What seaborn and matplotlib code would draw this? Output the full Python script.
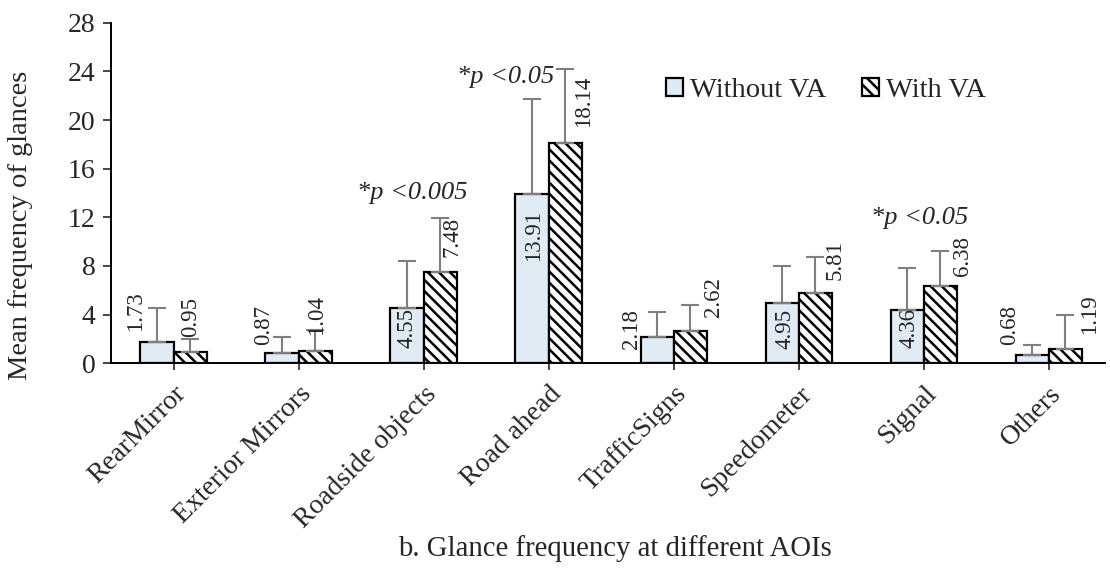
import numpy as np
import pandas as pd
import matplotlib
matplotlib.use("Agg")
import matplotlib.pyplot as plt
import seaborn as sns
from matplotlib.patches import Patch

# ---- data ----
categories = ["RearMirror", "Exterior Mirrors", "Roadside objects", "Road ahead",
              "TrafficSigns", "Speedometer", "Signal", "Others"]
without_va = [1.73, 0.87, 4.55, 13.91, 2.18, 4.95, 4.36, 0.68]
with_va = [0.95, 1.04, 7.48, 18.14, 2.62, 5.81, 6.38, 1.19]
without_sd = [2.85, 1.28, 3.88, 7.79, 2.01, 3.08, 3.45, 0.82]
with_sd = [1.02, 1.66, 4.45, 6.06, 2.15, 2.91, 2.88, 2.78]
series_names = ["Without VA", "With VA"]
y_ticks = [0, 4, 8, 12, 16, 20, 24, 28]
sig_labels = [("Roadside objects", "*p <0.005"), ("Road ahead", "*p <0.05"), ("Signal", "*p <0.05")]

# ---- layout (label placement: x offset from category centre, y in data units) ----
lab_without = [(-0.30, 4.3), (-0.28, 3.15), (-0.13, 2.9), (-0.12, 10.55),
               (-0.34, 2.8), (-0.11, 2.8), (-0.12, 2.9), (-0.31, 3.15)]
lab_with = [(0.14, 3.8), (0.14, 4.0), (0.23, 10.4), (0.28, 21.5),
            (0.32, 5.45), (0.29, 8.5), (0.31, 8.8), (0.33, 4.05)]
sig_pos = [(-0.09, 14.0), (-0.34, 23.55), (-0.03, 11.95)]

sns.set_style("white")
plt.rcParams["font.family"] = ["Liberation Serif", "DejaVu Serif"]
plt.rcParams["hatch.linewidth"] = 1.8

df = pd.DataFrame({
    "AOI": categories * 2,
    "cond": [series_names[0]] * len(categories) + [series_names[1]] * len(categories),
    "value": without_va + with_va,
})

fig = plt.figure(figsize=(11.1, 5.7), dpi=100)
ax = fig.add_axes([111 / 1110, 1 - 363.3 / 570, 994 / 1110, (363.3 - 22.7) / 570])

colors = {"Without VA": "#DDEBF7", "With VA": "white"}
sns.barplot(data=df, x="AOI", y="value", hue="cond", order=categories,
            hue_order=series_names, palette=colors, width=0.53, gap=0,
            edgecolor="black", linewidth=1.6, errorbar=None, ax=ax, legend=False)

for bar in ax.containers[1]:
    bar.set_hatch("\\\\\\")

# error bars (upper only)
for cont, sd in zip(ax.containers, [without_sd, with_sd]):
    xs = [b.get_x() + b.get_width() / 2 for b in cont]
    ys = [b.get_height() for b in cont]
    ax.errorbar(xs, ys, yerr=[np.zeros(len(sd)), sd], fmt="none",
                ecolor="#7f7f7f", elinewidth=1.5, capsize=6.5, capthick=1.5, zorder=1)

# value labels
for i, (v, (dx, yy)) in enumerate(zip(without_va, lab_without)):
    ax.text(i + dx, yy, f"{v:.2f}", rotation=90, ha="center", va="center", fontsize=16.5)
for i, (v, (dx, yy)) in enumerate(zip(with_va, lab_with)):
    ax.text(i + dx, yy, f"{v:.2f}", rotation=90, ha="center", va="center", fontsize=16.5)

# significance annotations
for (cat, txt), (dx, yy) in zip(sig_labels, sig_pos):
    i = categories.index(cat)
    ax.text(i + dx, yy, txt, ha="center", va="center", fontsize=19, style="italic")

ax.set_xlim(-0.5, 7.45)
ax.set_ylim(0, 28)
ax.set_yticks(y_ticks)
ax.set_yticklabels([str(t) for t in y_ticks])
ax.tick_params(axis="y", labelsize=20, length=6, width=1.2, direction="out", left=True, pad=5)
ax.tick_params(axis="x", labelsize=20, length=5, width=1.2, direction="out", bottom=True, pad=8)
plt.setp(ax.get_xticklabels(), rotation=45, ha="right", rotation_mode="anchor")
for s in ["top", "right"]:
    ax.spines[s].set_visible(False)
for s in ["left", "bottom"]:
    ax.spines[s].set_color("black")
    ax.spines[s].set_linewidth(1.4)

ax.set_ylabel("Mean frequency of glances", fontsize=20.5)
ax.yaxis.set_label_coords(-0.0785, 0.406)
ax.set_xlabel("")
fig.text(615 / 1110, 1 - 549 / 570, "b. Glance frequency at different AOIs", ha="center",
         va="center", fontsize=20.7)

handles = [Patch(facecolor="#DDEBF7", edgecolor="black", linewidth=1.6, label="Without VA"),
           Patch(facecolor="white", edgecolor="black", linewidth=1.6, hatch="\\\\\\", label="With VA")]
ax.legend(handles=handles, loc="center", bbox_to_anchor=(0.719, 0.800), ncol=2,
          frameon=False, fontsize=20.5, handlelength=0.6, handleheight=0.6,
          handletextpad=0.25, columnspacing=1.25)

fig.savefig("out.png", dpi=100)
